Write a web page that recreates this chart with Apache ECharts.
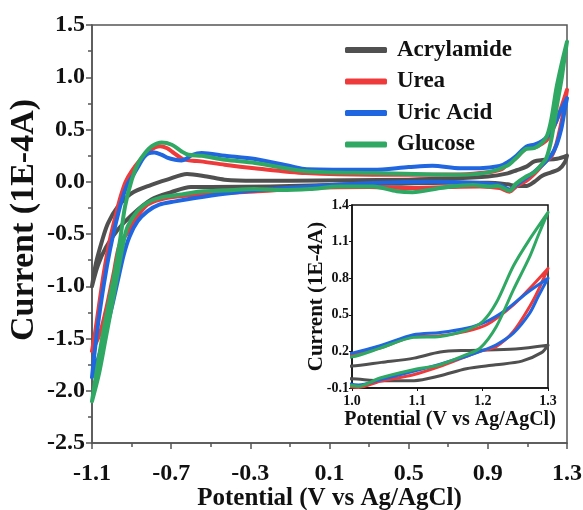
<!DOCTYPE html>
<html>
<head>
<meta charset="utf-8">
<title>CV</title>
<script src="https://cdn.jsdelivr.net/npm/echarts@6.0.0/dist/echarts.min.js"></script>
<style>
  html, body { margin: 0; padding: 0; background: #fff; }
  #chart { width: 583px; height: 510px; }
</style>
</head>
<body>
<div id="chart"></div>
<script>
// [potential (V), current (1E-4A)] - forward scan then reverse scan
const acrylamide = [
  [-1.1, -1.0], [-1.08, -0.78], [-1.05, -0.57], [-1.02, -0.4], [-0.97, -0.24], [-0.9, -0.11],
  [-0.8, -0.03], [-0.72, 0.02], [-0.62, 0.075], [-0.52, 0.05], [-0.43, 0.02], [-0.28, 0.01],
  [-0.1, 0.01], [0.2, 0.015], [0.5, 0.02], [0.7, 0.03], [0.9, 0.05], [1.0, 0.08], [1.045, 0.11],
  [1.095, 0.145], [1.135, 0.195], [1.175, 0.208], [1.25, 0.22], [1.3, 0.25],
  [1.29, 0.19], [1.26, 0.12], [1.22, 0.09], [1.175, 0.058], [1.135, 0.0], [1.095, -0.04],
  [1.045, -0.04], [1.0, -0.025], [0.9, -0.01], [0.7, -0.01], [0.4, -0.02], [0.1, -0.03],
  [-0.2, -0.045], [-0.5, -0.05], [-0.6, -0.05], [-0.7, -0.1], [-0.8, -0.17], [-0.9, -0.32],
  [-0.97, -0.46], [-1.03, -0.63], [-1.07, -0.8], [-1.1, -1.0]
]
const urea = [
  [-1.1, -1.62], [-1.085, -1.45], [-1.065, -1.19], [-1.04, -0.87], [-1.01, -0.56], [-0.98, -0.32],
  [-0.955, -0.14], [-0.93, 0.0], [-0.9, 0.1], [-0.86, 0.2], [-0.82, 0.28], [-0.78, 0.33],
  [-0.755, 0.34], [-0.72, 0.32], [-0.69, 0.28], [-0.64, 0.215], [-0.59, 0.2], [-0.55, 0.195],
  [-0.43, 0.163], [-0.28, 0.13], [-0.02, 0.083], [0.32, 0.067], [0.76, 0.07], [0.9, 0.09],
  [0.97, 0.12], [1.0, 0.17], [1.043, 0.227], [1.094, 0.32], [1.135, 0.328], [1.175, 0.364],
  [1.206, 0.418], [1.247, 0.582], [1.277, 0.745], [1.3, 0.88],
  [1.285, 0.7], [1.272, 0.568], [1.247, 0.364], [1.221, 0.241], [1.196, 0.2], [1.175, 0.159],
  [1.135, 0.077], [1.094, 0.009], [1.043, -0.045], [1.01, -0.095], [0.96, -0.06], [0.86, -0.045],
  [0.7, -0.05], [0.5, -0.06], [0.3, -0.05], [0.0, -0.06], [-0.28, -0.093], [-0.43, -0.108],
  [-0.55, -0.124], [-0.66, -0.14], [-0.76, -0.172], [-0.82, -0.22], [-0.87, -0.33], [-0.91, -0.46],
  [-0.96, -0.6], [-0.99, -0.87], [-1.025, -1.19], [-1.06, -1.45], [-1.1, -1.62]
]
const uricAcid = [
  [-1.1, -1.87], [-1.085, -1.6], [-1.065, -1.3], [-1.04, -0.98], [-1.01, -0.66], [-0.98, -0.4],
  [-0.95, -0.18], [-0.92, -0.02], [-0.89, 0.07], [-0.866, 0.146], [-0.84, 0.23], [-0.816, 0.27],
  [-0.785, 0.28], [-0.75, 0.26], [-0.72, 0.23], [-0.68, 0.21], [-0.647, 0.204], [-0.62, 0.225],
  [-0.596, 0.255], [-0.546, 0.275], [-0.428, 0.249], [-0.276, 0.217], [-0.1, 0.15], [-0.015, 0.12],
  [0.32, 0.115], [0.5, 0.14], [0.62, 0.153], [0.76, 0.13], [0.86, 0.13], [0.96, 0.15], [1.0, 0.186],
  [1.043, 0.246], [1.094, 0.336], [1.135, 0.355], [1.175, 0.39], [1.206, 0.445], [1.236, 0.541],
  [1.267, 0.677], [1.3, 0.8],
  [1.285, 0.65], [1.272, 0.514], [1.247, 0.35], [1.221, 0.255], [1.196, 0.2], [1.175, 0.16],
  [1.135, 0.096], [1.094, 0.036], [1.043, -0.032], [1.01, -0.075], [0.96, -0.03], [0.86, -0.013],
  [0.62, 0.0], [0.32, -0.013], [0.0, -0.045], [-0.28, -0.083], [-0.43, -0.115], [-0.58, -0.156],
  [-0.68, -0.188], [-0.76, -0.22], [-0.82, -0.284], [-0.87, -0.38], [-0.91, -0.523], [-0.94, -0.7],
  [-0.97, -0.95], [-1.0, -1.2], [-1.04, -1.5], [-1.07, -1.7], [-1.1, -1.87]
]
const glucose = [
  [-1.1, -2.1], [-1.078, -1.83], [-1.05, -1.51], [-1.018, -1.19], [-0.986, -0.874], [-0.958, -0.555],
  [-0.933, -0.236], [-0.899, 0.02], [-0.866, 0.18], [-0.832, 0.275], [-0.798, 0.34], [-0.748, 0.376],
  [-0.697, 0.354], [-0.647, 0.29], [-0.613, 0.258], [-0.546, 0.249], [-0.428, 0.21], [-0.276, 0.18],
  [-0.015, 0.1], [0.32, 0.083], [0.76, 0.067], [0.9, 0.09], [1.0, 0.155], [1.043, 0.227],
  [1.094, 0.315], [1.135, 0.323], [1.175, 0.375], [1.2, 0.445], [1.221, 0.6], [1.247, 0.9],
  [1.272, 1.12], [1.3, 1.34],
  [1.285, 1.15], [1.272, 0.977], [1.247, 0.705], [1.221, 0.405], [1.196, 0.227], [1.175, 0.173],
  [1.135, 0.091], [1.094, 0.05], [1.043, -0.018], [1.01, -0.085], [0.95, -0.04], [0.91, -0.045],
  [0.825, -0.03], [0.66, -0.06], [0.52, -0.1], [0.44, -0.09], [0.32, -0.045], [0.15, -0.045],
  [0.0, -0.07], [-0.15, -0.08], [-0.28, -0.07], [-0.43, -0.083], [-0.55, -0.093], [-0.66, -0.124],
  [-0.75, -0.15], [-0.82, -0.2], [-0.87, -0.28], [-0.92, -0.43], [-0.94, -0.57], [-0.97, -0.874],
  [-1.0, -1.19], [-1.032, -1.51], [-1.064, -1.83], [-1.1, -2.1]
]

const seriesNames = ['Acrylamide', 'Urea', 'Uric Acid', 'Glucose']
const seriesColors = ['#505050', '#ee3a3a', '#1f66e0', '#2ea862']
const seriesData = [acrylamide, urea, uricAcid, glucose]

const xMajorTicks = [-1.1, -0.7, -0.3, 0.1, 0.5, 0.9, 1.3]
const xMinorTicks = [-0.9, -0.5, -0.1, 0.3, 0.7, 1.1]
const insetYTicks = [-0.1, 0.2, 0.5, 0.8, 1.1, 1.4]

const font = 'Liberation Serif'
const axisColor = '#555'
const textColor = '#111'

const chart = echarts.init(document.getElementById('chart'))

const mainSeries = seriesData.map((data, i) => ({
  name: seriesNames[i],
  type: 'line',
  xAxisIndex: 0,
  yAxisIndex: 0,
  data: data,
  smooth: 0.3,
  showSymbol: false,
  lineStyle: { width: 4, color: seriesColors[i], cap: 'round', join: 'round' },
  itemStyle: { color: seriesColors[i] }
}))

// inset: same data, zoomed window 1.0 - 1.3 V
const insetSeries = seriesData.map((data, i) => ({
  name: seriesNames[i],
  type: 'line',
  xAxisIndex: 2,
  yAxisIndex: 1,
  data: data,
  smooth: 0.3,
  showSymbol: false,
  z: 10,
  lineStyle: { width: 3, color: seriesColors[i], cap: 'round', join: 'round' },
  itemStyle: { color: seriesColors[i] }
}))

const option = {
  animation: false,
  backgroundColor: '#fff',
  legend: {
    data: seriesNames,
    orient: 'vertical',
    left: 340,
    top: 33,
    itemWidth: 42,
    itemHeight: 6,
    itemGap: 7.5,
    icon: 'roundRect',
    textStyle: {
      fontFamily: font,
      fontWeight: 'bold',
      fontSize: 23,
      lineHeight: 24,
      color: textColor,
      padding: [0, 0, 0, 5]
    }
  },
  grid: [
    { left: 92, top: 25, width: 475, height: 418, outerBoundsMode: 'none', show: true, borderColor: axisColor, borderWidth: 1.5, backgroundColor: 'transparent' },
    { left: 352, top: 205, width: 196, height: 183, outerBoundsMode: 'none', show: true, borderColor: '#111', borderWidth: 1.5, backgroundColor: '#fff' }
  ],
  xAxis: [
    {
      type: 'value',
      gridIndex: 0,
      position: 'bottom',
      min: -1.1,
      max: 1.3,
      axisLine: { show: true, onZero: false, lineStyle: { color: axisColor, width: 1.5 } },
      axisTick: { show: true, customValues: xMajorTicks, length: 6, lineStyle: { color: axisColor, width: 1.5 } },
      axisLabel: {
        customValues: xMajorTicks,
        formatter: v => v.toFixed(1),
        fontFamily: font,
        fontWeight: 'bold',
        fontSize: 24,
        color: textColor,
        margin: 19
      },
      splitLine: { show: false },
      name: 'Potential (V vs Ag/AgCl)',
      nameLocation: 'middle',
      nameGap: 43,
      nameMoveOverlap: false,
      nameTextStyle: { fontFamily: font, fontWeight: 'bold', fontSize: 25, color: textColor }
    },
    {
      // minor ticks only
      type: 'value',
      gridIndex: 0,
      position: 'bottom',
      min: -1.1,
      max: 1.3,
      axisLine: { show: false, onZero: false },
      axisTick: { show: true, customValues: xMinorTicks, length: 4, lineStyle: { color: axisColor, width: 1.5 } },
      axisLabel: { show: false },
      splitLine: { show: false }
    },
    {
      type: 'value',
      gridIndex: 1,
      position: 'bottom',
      min: 1.0,
      max: 1.3,
      interval: 0.1,
      axisLine: { show: true, onZero: false, lineStyle: { color: '#111', width: 1.5 } },
      axisTick: { show: true, length: 3, lineStyle: { color: '#111' } },
      axisLabel: {
        formatter: v => v.toFixed(1),
        fontFamily: font,
        fontWeight: 'bold',
        fontSize: 14,
        color: textColor,
        margin: 6
      },
      splitLine: { show: false },
      name: 'Potential (V vs Ag/AgCl)',
      nameLocation: 'middle',
      nameGap: 22,
      nameMoveOverlap: false,
      nameTextStyle: { fontFamily: font, fontWeight: 'bold', fontSize: 20, color: textColor }
    }
  ],
  yAxis: [
    {
      type: 'value',
      gridIndex: 0,
      min: -2.5,
      max: 1.5,
      interval: 0.5,
      axisLine: { show: true, onZero: false, lineStyle: { color: axisColor, width: 1.5 } },
      axisTick: { show: true, length: 6, lineStyle: { color: axisColor, width: 1.5 } },
      minorTick: { show: true, splitNumber: 2, length: 4, lineStyle: { color: axisColor, width: 1.5 } },
      axisLabel: {
        formatter: v => v.toFixed(1),
        fontFamily: font,
        fontWeight: 'bold',
        fontSize: 24,
        color: textColor,
        margin: 7
      },
      splitLine: { show: false },
      minorSplitLine: { show: false },
      name: 'Current (1E-4A)',
      nameLocation: 'middle',
      nameGap: 51,
      nameMoveOverlap: false,
      nameTextStyle: { fontFamily: font, fontWeight: 'bold', fontSize: 34, color: textColor, padding: [0, 0, 0, 28] }
    },
    {
      type: 'value',
      gridIndex: 1,
      min: -0.1,
      max: 1.4,
      axisLine: { show: true, onZero: false, lineStyle: { color: '#111', width: 1.5 } },
      axisTick: { show: true, customValues: insetYTicks, length: 3, lineStyle: { color: '#111' } },
      axisLabel: {
        customValues: insetYTicks,
        formatter: v => v.toFixed(1),
        fontFamily: font,
        fontWeight: 'bold',
        fontSize: 14,
        color: textColor,
        margin: 3
      },
      splitLine: { show: false },
      name: 'Current (1E-4A)',
      nameLocation: 'middle',
      nameGap: 25,
      nameMoveOverlap: false,
      nameTextStyle: { fontFamily: font, fontWeight: 'bold', fontSize: 21, color: textColor }
    }
  ],
  series: mainSeries.concat(insetSeries)
}

chart.setOption(option)
</script>
</body>
</html>
